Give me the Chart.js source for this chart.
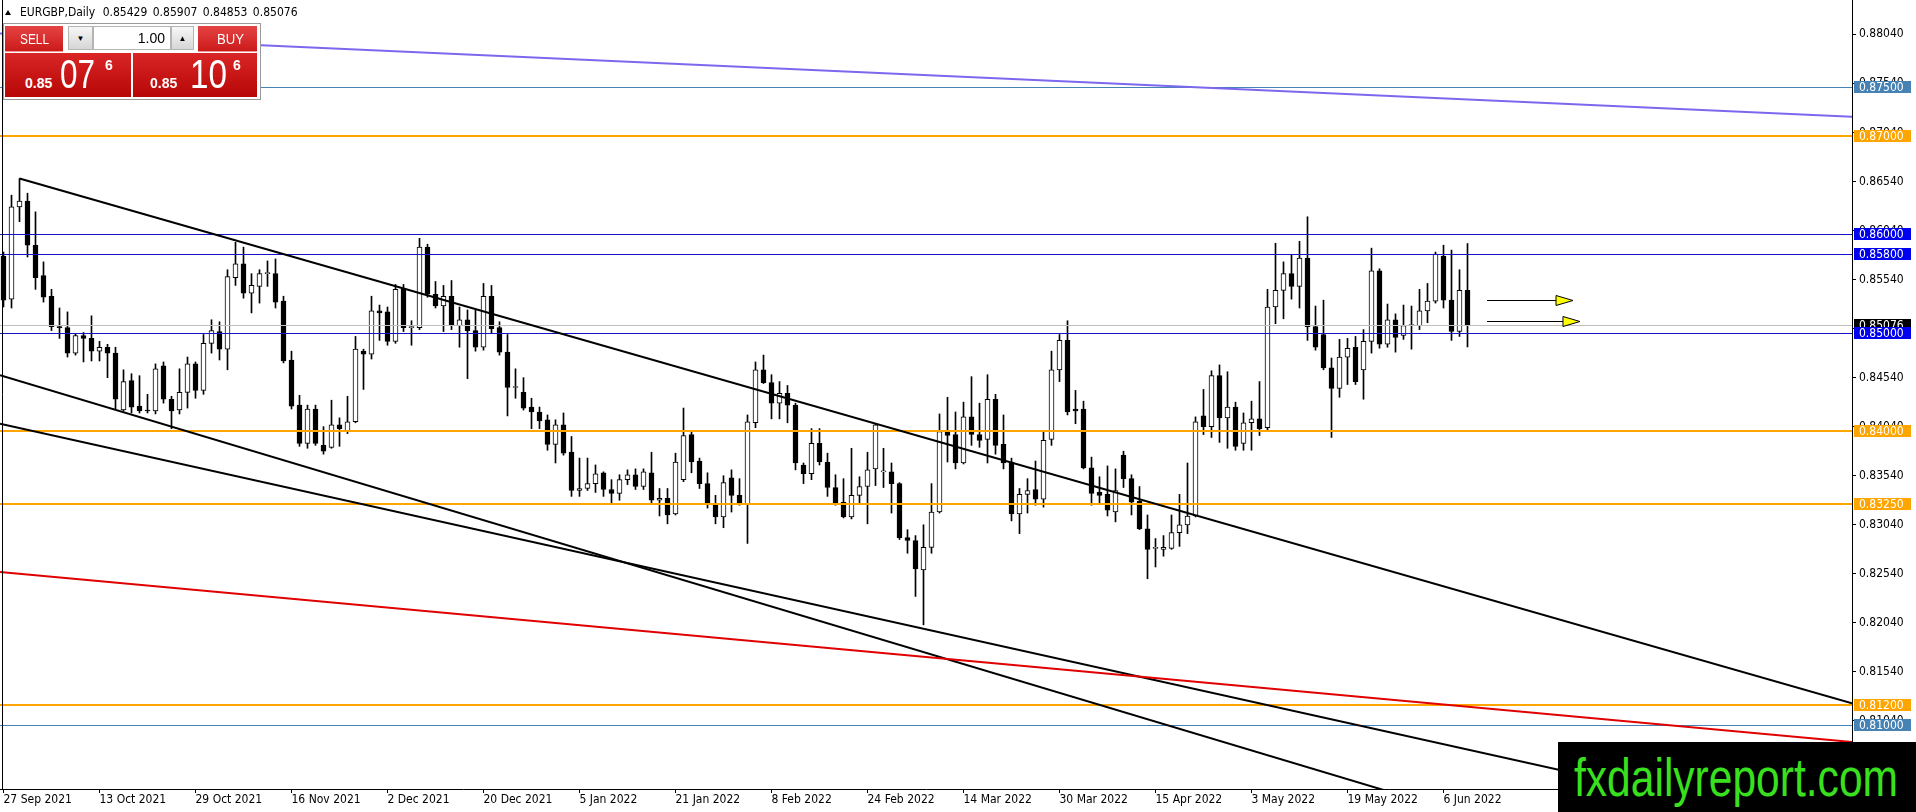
<!DOCTYPE html>
<html>
<head>
<meta charset="utf-8">
<title>EURGBP Daily</title>
<script src="https://cdn.jsdelivr.net/npm/chart.js@4.4.0/dist/chart.umd.min.js"></script>
<style>
  body { margin: 0; background: #fff; overflow: hidden; }
  #wrap { position: relative; width: 1916px; height: 812px; }
  #chart { position: absolute; left: 0; top: 0; }
  #head { position: absolute; left: 20px; top: 5px; font: 12px "DejaVu Sans Condensed", "DejaVu Sans", sans-serif; line-height: 14px; color: #000; word-spacing: 2px; white-space: pre; }
  #tri { position: absolute; left: 5px; top: 10px; width: 0; height: 0; border-left: 3.5px solid transparent; border-right: 3.5px solid transparent; border-bottom: 5px solid #000; }
  #panel { position: absolute; left: 3px; top: 23px; width: 256px; height: 75px; border: 1px solid #9a9a9a; background: #fff; }
  #panel div { position: absolute; box-sizing: border-box; }
  .btn { top: 2px; height: 26px; color: #fff; font: 15px "Liberation Sans", sans-serif; background: linear-gradient(#e54444, #cc1a1a); border-bottom: 1px solid #f29a9a; }
  .btn span { position: absolute; top: 5px; line-height: 1; white-space: nowrap; }
  .spin { top: 2px; height: 24px; background: linear-gradient(#f7f7f7, #d6d6d6); border: 1px solid #b4b4b4; font-size: 8px; display: flex; align-items: center; justify-content: center; color: #000; }
  .lot { top: 2px; height: 24px; background: #fff; border: 1px solid #b4b4b4; font: 14px "Liberation Sans", sans-serif; text-align: right; padding-right: 5px; line-height: 22px; }
  .quote { top: 29px; height: 44px; background: linear-gradient(#d92525, #b70707); color: #fff; }
  .quote span { position: absolute; line-height: 1; white-space: nowrap; }
  .sm { font: bold 14px "Liberation Sans", sans-serif; }
  .bg { font: 40px "Liberation Sans", sans-serif; }
  .fit { transform-origin: 0 0; }
  #mark { position: absolute; left: 1558px; top: 742px; width: 358px; height: 70px; background: #000; overflow: hidden; }
  #mark span { position: absolute; left: 16px; top: 5px; line-height: 1; font: 53px "Liberation Sans", sans-serif; color: #39e01e; white-space: nowrap; }
</style>
</head>
<body>
<div id="wrap">
  <canvas id="chart" width="1916" height="812"></canvas>
  <div id="tri"></div>
  <div id="head">EURGBP,Daily <span style="margin-left:2px">0.85429 0.85907 0.84853 0.85076</span></div>
  <div id="panel">
    <div class="btn" style="left:1px;width:58px"><span class="fit" data-w="29" style="left:15px">SELL</span></div>
    <div class="spin" style="left:64px;width:25px">&#9660;</div>
    <div class="lot" style="left:89px;width:78px">1.00</div>
    <div class="spin" style="left:167px;width:23px">&#9650;</div>
    <div class="btn" style="left:194px;width:59px"><span class="fit" data-w="27" style="left:19px">BUY</span></div>
    <div class="quote" style="left:1px;width:126px">
      <span class="sm" style="left:20px;top:23px">0.85</span>
      <span class="bg fit" data-w="35" style="left:55px;top:1px">07</span>
      <span class="sm" style="left:100px;top:5px">6</span>
    </div>
    <div class="quote" style="left:129px;width:124px">
      <span class="sm" style="left:17px;top:23px">0.85</span>
      <span class="bg fit" data-w="37" style="left:57px;top:1px">10</span>
      <span class="sm" style="left:100px;top:5px">6</span>
    </div>
  </div>
  <div id="mark"><span class="fit" data-w="324">fxdailyreport.com</span></div>
</div>
<script>
// EURGBP daily bars, 27 Sep 2021 - 9 Jun 2022 (bar index 0..183)
const opens = [
  0.8578, 0.8534, 0.8628, 0.8634, 0.8589, 0.8558, 0.8537, 0.8506, 0.8505, 0.8479,
  0.8497, 0.8494, 0.8481, 0.8485, 0.8479, 0.8421, 0.8451, 0.8425, 0.8421, 0.8420,
  0.8466, 0.8432, 0.8421, 0.8439, 0.8468, 0.8441, 0.8489, 0.8501, 0.8483, 0.8556,
  0.8570, 0.8540, 0.8547, 0.8560, 0.8560, 0.8532, 0.8472, 0.8426, 0.8387, 0.8422,
  0.8385, 0.8383, 0.8406, 0.8400, 0.8409, 0.8481, 0.8478, 0.8522, 0.8521, 0.8491,
  0.8545, 0.8505, 0.8505, 0.8587, 0.8539, 0.8527, 0.8537, 0.8507, 0.8513, 0.8502,
  0.8485, 0.8537, 0.8505, 0.8480, 0.8444, 0.8439, 0.8424, 0.8419, 0.8411, 0.8386,
  0.8406, 0.8378, 0.8339, 0.8341, 0.8346, 0.8357, 0.8340, 0.8336, 0.8350, 0.8355,
  0.8343, 0.8357, 0.8329, 0.8331, 0.8315, 0.8350, 0.8396, 0.8369, 0.8346, 0.8326,
  0.8312, 0.8352, 0.8334, 0.8325, 0.8408, 0.8462, 0.8449, 0.8428, 0.8438, 0.8426,
  0.8365, 0.8356, 0.8387, 0.8368, 0.8342, 0.8327, 0.8312, 0.8334, 0.8343, 0.8361,
  0.8358, 0.8358, 0.8346, 0.8291, 0.8288, 0.8258, 0.8281, 0.8317, 0.8399, 0.8396,
  0.8367, 0.8414, 0.8396, 0.8391, 0.8432, 0.8386, 0.8368, 0.8315, 0.8335, 0.8340,
  0.8330, 0.8391, 0.8462, 0.8492, 0.8422, 0.8422, 0.8362, 0.8337, 0.8335, 0.8317,
  0.8375, 0.8351, 0.8328, 0.8300, 0.8280, 0.8279, 0.8280, 0.8296, 0.8304, 0.8313,
  0.8415, 0.8404, 0.8456, 0.8413, 0.8424, 0.8387, 0.8408, 0.8412, 0.8403, 0.8526,
  0.8543, 0.8560, 0.8547, 0.8576, 0.8506, 0.8498, 0.8464, 0.8443, 0.8475, 0.8485,
  0.8462, 0.8491, 0.8563, 0.8488, 0.8513, 0.8497, 0.8507, 0.8507, 0.8522, 0.8532,
  0.8578, 0.8533, 0.8501, 0.85429
];
const highs = [
  0.8582, 0.8640, 0.8657, 0.8642, 0.8623, 0.8572, 0.8544, 0.8525, 0.8521, 0.8499,
  0.8500, 0.8517, 0.8491, 0.8488, 0.8485, 0.8462, 0.8458, 0.8456, 0.8437, 0.8468,
  0.8470, 0.8435, 0.8463, 0.8475, 0.8470, 0.8498, 0.8513, 0.8511, 0.8564, 0.8592,
  0.8587, 0.8560, 0.8564, 0.8573, 0.8575, 0.8537, 0.8481, 0.8436, 0.8426, 0.8426,
  0.8404, 0.8431, 0.8413, 0.8435, 0.8496, 0.8483, 0.8537, 0.8528, 0.8526, 0.8549,
  0.8549, 0.8512, 0.8596, 0.8590, 0.8552, 0.8548, 0.8553, 0.8526, 0.8523, 0.8523,
  0.8550, 0.8548, 0.8511, 0.8498, 0.8463, 0.8454, 0.8433, 0.8424, 0.8416, 0.8411,
  0.8418, 0.8394, 0.8372, 0.8372, 0.8365, 0.8358, 0.8350, 0.8355, 0.8360, 0.8361,
  0.8361, 0.8378, 0.8341, 0.8341, 0.8377, 0.8423, 0.8399, 0.8372, 0.8357, 0.8334,
  0.8354, 0.8360, 0.8351, 0.8416, 0.8470, 0.8477, 0.8457, 0.8450, 0.8446, 0.8428,
  0.8367, 0.8402, 0.8402, 0.8377, 0.8355, 0.8351, 0.8382, 0.8353, 0.8378, 0.8407,
  0.8382, 0.8367, 0.8347, 0.8299, 0.8293, 0.8304, 0.8346, 0.8417, 0.8434, 0.8419,
  0.8429, 0.8455, 0.8428, 0.8457, 0.8437, 0.8416, 0.8372, 0.8341, 0.8351, 0.8369,
  0.8400, 0.8481, 0.8498, 0.8512, 0.8441, 0.8430, 0.8373, 0.8353, 0.8364, 0.8361,
  0.8379, 0.8355, 0.8343, 0.8314, 0.8290, 0.8293, 0.8314, 0.8335, 0.8367, 0.8414,
  0.8442, 0.8461, 0.8467, 0.8460, 0.8429, 0.8418, 0.8430, 0.8450, 0.8544, 0.8591,
  0.8572, 0.8579, 0.8593, 0.8618, 0.8527, 0.8533, 0.8474, 0.8493, 0.8494, 0.8496,
  0.8503, 0.8586, 0.8565, 0.8529, 0.8519, 0.8528, 0.8527, 0.8544, 0.8550, 0.8582,
  0.8589, 0.8584, 0.8564, 0.85907
];
const lows = [
  0.8526, 0.8525, 0.8613, 0.8577, 0.8544, 0.8531, 0.8502, 0.8494, 0.8475, 0.8477,
  0.8470, 0.8471, 0.8471, 0.8454, 0.8422, 0.8420, 0.8418, 0.8418, 0.8418, 0.8417,
  0.8428, 0.8402, 0.8417, 0.8423, 0.8433, 0.8437, 0.8479, 0.8472, 0.8462, 0.8548,
  0.8535, 0.8520, 0.8530, 0.8547, 0.8525, 0.8469, 0.8422, 0.8384, 0.8382, 0.8385,
  0.8376, 0.8382, 0.8384, 0.8397, 0.8408, 0.8442, 0.8473, 0.8492, 0.8487, 0.8489,
  0.8501, 0.8487, 0.8503, 0.8536, 0.8525, 0.8501, 0.8503, 0.8485, 0.8453, 0.8481,
  0.8482, 0.8499, 0.8477, 0.8415, 0.8433, 0.8421, 0.8402, 0.8402, 0.8380, 0.8367,
  0.8375, 0.8333, 0.8333, 0.8339, 0.8337, 0.8333, 0.8325, 0.8329, 0.8345, 0.8340,
  0.8340, 0.8326, 0.8313, 0.8305, 0.8314, 0.8348, 0.8357, 0.8341, 0.8321, 0.8305,
  0.8301, 0.8317, 0.8324, 0.8285, 0.8403, 0.8448, 0.8412, 0.8412, 0.8408, 0.8360,
  0.8346, 0.8350, 0.8365, 0.8333, 0.8324, 0.8311, 0.8310, 0.8325, 0.8305, 0.8344,
  0.8342, 0.8316, 0.8289, 0.8275, 0.8231, 0.8202, 0.8275, 0.8316, 0.8368, 0.8361,
  0.8366, 0.8385, 0.8383, 0.8367, 0.8376, 0.8361, 0.8308, 0.8295, 0.8316, 0.8324,
  0.8322, 0.8385, 0.8450, 0.8416, 0.8407, 0.8361, 0.8324, 0.8326, 0.8313, 0.8307,
  0.8342, 0.8314, 0.8299, 0.8249, 0.8261, 0.8272, 0.8279, 0.8282, 0.8295, 0.8312,
  0.8396, 0.8393, 0.8388, 0.8382, 0.8380, 0.8380, 0.8380, 0.8395, 0.8401, 0.8509,
  0.8514, 0.8534, 0.8525, 0.8492, 0.8482, 0.8462, 0.8393, 0.8434, 0.8447, 0.8447,
  0.8432, 0.8479, 0.8484, 0.8485, 0.8480, 0.8493, 0.8483, 0.8503, 0.8510, 0.8530,
  0.8525, 0.8492, 0.8496, 0.84853
];
const closes = [
  0.8533, 0.8628, 0.8634, 0.8589, 0.8556, 0.8536, 0.8506, 0.8505, 0.8479, 0.8497,
  0.8494, 0.8481, 0.8485, 0.8479, 0.8432, 0.8450, 0.8424, 0.8420, 0.8420, 0.8463,
  0.8432, 0.8420, 0.8439, 0.8468, 0.8441, 0.8489, 0.8502, 0.8483, 0.8557, 0.8570,
  0.8540, 0.8548, 0.8560, 0.8561, 0.8531, 0.8471, 0.8425, 0.8387, 0.8422, 0.8387,
  0.8379, 0.8406, 0.8402, 0.8409, 0.8483, 0.8478, 0.8522, 0.8520, 0.8491, 0.8544,
  0.8505, 0.8506, 0.8587, 0.8539, 0.8527, 0.8537, 0.8507, 0.8513, 0.8502, 0.8485,
  0.8537, 0.8504, 0.8480, 0.8444, 0.8445, 0.8423, 0.8419, 0.8410, 0.8386, 0.8406,
  0.8377, 0.8339, 0.8341, 0.8346, 0.8356, 0.8340, 0.8336, 0.8350, 0.8355, 0.8343,
  0.8358, 0.8329, 0.8331, 0.8314, 0.8368, 0.8395, 0.8368, 0.8346, 0.8326, 0.8312,
  0.8347, 0.8334, 0.8325, 0.8409, 0.8462, 0.8449, 0.8428, 0.8438, 0.8426, 0.8367,
  0.8356, 0.8387, 0.8368, 0.8342, 0.8326, 0.8312, 0.8334, 0.8343, 0.8360, 0.8406,
  0.8358, 0.8346, 0.8291, 0.8288, 0.8259, 0.8281, 0.8317, 0.8399, 0.8395, 0.8367,
  0.8414, 0.8396, 0.8390, 0.8432, 0.8385, 0.8367, 0.8315, 0.8335, 0.8339, 0.8330,
  0.8390, 0.8462, 0.8492, 0.8419, 0.8420, 0.8362, 0.8336, 0.8334, 0.8319, 0.8339,
  0.8351, 0.8327, 0.8300, 0.8279, 0.8280, 0.8281, 0.8296, 0.8304, 0.8313, 0.8409,
  0.8404, 0.8456, 0.8413, 0.8424, 0.8384, 0.8408, 0.8412, 0.8402, 0.8526, 0.8543,
  0.8560, 0.8547, 0.8576, 0.8506, 0.8485, 0.8464, 0.8443, 0.8475, 0.8484, 0.8450,
  0.8491, 0.8563, 0.8488, 0.8513, 0.8495, 0.8507, 0.8507, 0.8522, 0.8532, 0.8580,
  0.8533, 0.8501, 0.8543, 0.85076
];

// time axis labels (every 12th bar)
const dateTickIdx = [0, 12, 24, 36, 48, 60, 72, 84, 96, 108, 120, 132, 144, 156, 168, 180];
const dateTickLabels = [
  "27 Sep 2021", "13 Oct 2021", "29 Oct 2021", "16 Nov 2021", "2 Dec 2021",
  "20 Dec 2021", "5 Jan 2022", "21 Jan 2022", "8 Feb 2022", "24 Feb 2022",
  "14 Mar 2022", "30 Mar 2022", "15 Apr 2022", "3 May 2022", "19 May 2022", "6 Jun 2022"
];
// price axis ticks
const priceTicks = [0.8804, 0.8754, 0.8704, 0.8654, 0.8604, 0.8554, 0.8504, 0.8454,
  0.8404, 0.8354, 0.8304, 0.8254, 0.8204, 0.8154, 0.8104];

// horizontal levels drawn on the chart
const levelPrices = [0.875, 0.870, 0.860, 0.858, 0.85076, 0.850, 0.840, 0.8325, 0.812, 0.810];
const levelLines  = ["#4682b4", "#ffa500", "#1414c8", "#1414c8", "#c0c0c0", "#1414c8", "#ffa500", "#ffa500", "#ffa500", "#4682b4"];
const levelBoxes  = ["#4682b4", "#ffa500", "#0000f0", "#0000f0", "#000000", "#0000f0", "#ffa500", "#ffa500", "#ffa500", "#4682b4"];
const levelWidths = [1, 2, 1, 1, 1, 1, 2, 2, 2, 1];

// trend lines: [bar index, price] -> [bar index, price]
const trendStart = [[-0.4375, 0.88047], [2, 0.8657], [-0.4375, 0.84565], [-0.4375, 0.84071], [-0.4375, 0.82559]];
const trendEnd   = [[231.0625, 0.8720], [231.0625, 0.8122], [231.0625, 0.78905], [231.0625, 0.79879], [231.0625, 0.80826]];
const trendColors = ["#7b68ee", "#000000", "#000000", "#000000", "#e00000"];

// arrows: [start index, price, tip index]
const arrows = [[185.44, 0.85332, 196.19], [185.44, 0.85121, 197.06]];

const FONT = '"DejaVu Sans Condensed", "DejaVu Sans", sans-serif';
const xMin = -0.4375, xMax = 231.0625;
const yMin = 0.803468, yMax = 0.883896;

// squeeze narrow texts to the width they have on the terminal
document.querySelectorAll(".fit").forEach(el => {
  const w = el.getBoundingClientRect().width;
  el.style.transform = "scaleX(" + (parseFloat(el.dataset.w) / w) + ")";
});

const wickData = highs.map((h, i) => ({ x: i, y: [lows[i], h] }));
const bodyData = opens.map((o, i) => ({ x: i, y: [o, closes[i]] }));

const mtObjects = {
  id: "mtObjects",
  afterDatasetsDraw(chart) {
    const { ctx, chartArea: a, scales: { x, y } } = chart;
    ctx.save();
    ctx.beginPath();
    ctx.rect(a.left, a.top, a.right - a.left, a.bottom - a.top);
    ctx.clip();

    // levels
    levelPrices.forEach((p, k) => {
      const w = levelWidths[k];
      const py = Math.round(y.getPixelForValue(p)) + (w % 2 ? 0.5 : 0);
      ctx.strokeStyle = levelLines[k];
      ctx.lineWidth = w;
      ctx.beginPath();
      ctx.moveTo(a.left, py);
      ctx.lineTo(a.right, py);
      ctx.stroke();
    });

    // trend lines
    ctx.lineWidth = 2;
    trendStart.forEach((s, k) => {
      const e = trendEnd[k];
      ctx.strokeStyle = trendColors[k];
      ctx.beginPath();
      ctx.moveTo(x.getPixelForValue(s[0]), y.getPixelForValue(s[1]));
      ctx.lineTo(x.getPixelForValue(e[0]), y.getPixelForValue(e[1]));
      ctx.stroke();
    });

    // arrows
    arrows.forEach(ar => {
      const x0 = x.getPixelForValue(ar[0]);
      const x1 = x.getPixelForValue(ar[2]);
      const py = Math.round(y.getPixelForValue(ar[1])) + 0.5;
      ctx.strokeStyle = "#000";
      ctx.lineWidth = 1;
      ctx.beginPath();
      ctx.moveTo(x0, py);
      ctx.lineTo(x1 - 17, py);
      ctx.stroke();
      ctx.fillStyle = "#ffff00";
      ctx.beginPath();
      ctx.moveTo(x1, py);
      ctx.lineTo(x1 - 17, py - 5);
      ctx.lineTo(x1 - 17, py + 5);
      ctx.closePath();
      ctx.fill();
      ctx.stroke();
    });

    // left frame
    ctx.strokeStyle = "#000";
    ctx.lineWidth = 1;
    ctx.beginPath();
    ctx.moveTo(2.5, a.top);
    ctx.lineTo(2.5, a.bottom);
    ctx.stroke();
    ctx.restore();
  },
  afterDraw(chart) {
    const { ctx, scales: { y } } = chart;
    ctx.save();
    ctx.font = "12px " + FONT;
    ctx.textBaseline = "middle";
    levelPrices.forEach((p, k) => {
      const py = Math.round(y.getPixelForValue(p));
      ctx.fillStyle = levelBoxes[k];
      ctx.fillRect(y.left + 2, py - 6, 57, 12);
      ctx.fillStyle = "#fff";
      ctx.fillText(p.toFixed(5), y.left + 7, py + 0.5);
    });
    ctx.restore();
  }
};

new Chart(document.getElementById("chart"), {
  type: "bar",
  data: {
    datasets: [
      {
        data: bodyData,
        order: 1,
        barThickness: 5,
        minBarLength: 1,
        borderWidth: 1,
        borderSkipped: false,
        borderColor: "#000",
        backgroundColor: c => closes[c.dataIndex] >= opens[c.dataIndex] ? "#fff" : "#000"
      },
      {
        data: wickData,
        order: 2,
        barThickness: 1,
        borderWidth: 0,
        backgroundColor: "#000"
      }
    ]
  },
  options: {
    responsive: false,
    animation: false,
    devicePixelRatio: 1,
    layout: { padding: 0 },
    datasets: { bar: { grouped: false } },
    plugins: { legend: { display: false }, tooltip: { enabled: false } },
    scales: {
      x: {
        type: "linear",
        min: xMin,
        max: xMax,
        offset: false,
        grid: { drawOnChartArea: false, offset: false, tickLength: 4, tickColor: "#000" },
        border: { color: "#000" },
        ticks: {
          autoSkip: false, maxRotation: 0, minRotation: 0, align: "start", padding: 0,
          color: "#000", font: { family: FONT, size: 12 },
          callback: (v, i) => dateTickLabels[i]
        },
        afterBuildTicks: s => { s.ticks = dateTickIdx.map(v => ({ value: v })); },
        afterFit: s => { s.height = 23; s.paddingLeft = 0; s.paddingRight = 0; }
      },
      y: {
        position: "right",
        min: yMin,
        max: yMax,
        grid: { drawOnChartArea: false, tickLength: 4, tickColor: "#000" },
        border: { color: "#000" },
        ticks: {
          padding: 3, color: "#000", font: { family: FONT, size: 12 },
          callback: v => v.toFixed(5)
        },
        afterBuildTicks: s => { s.ticks = priceTicks.map(v => ({ value: v })); },
        afterFit: s => { s.width = 64; s.paddingTop = 0; s.paddingBottom = 0; }
      }
    }
  },
  plugins: [mtObjects]
});
</script>
</body>
</html>
